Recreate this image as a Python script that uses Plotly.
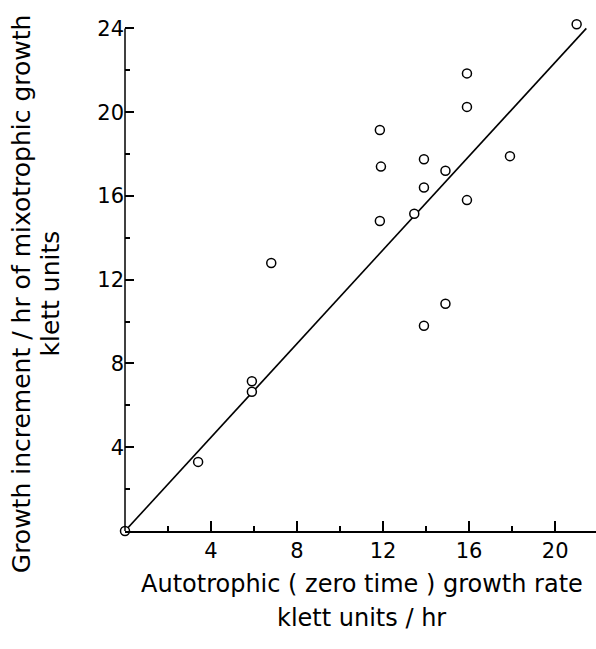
import plotly.graph_objects as go

# Data
auto_rate = [0.0, 3.4, 5.9, 5.9, 6.8, 11.85, 11.9, 11.85, 13.45, 13.9, 13.9,
             13.9, 14.9, 14.9, 15.9, 15.9, 15.9, 17.9, 21.0]
mixo_increment = [0.0, 3.3, 6.65, 7.15, 12.8, 14.8, 17.4, 19.15, 15.15, 16.4,
                  17.75, 9.8, 10.85, 17.2, 15.8, 20.25, 21.85, 17.9, 24.2]

fit_x = [0.0, 21.45]
fit_y = [0.0, 24.0]

x_ticks = [4, 8, 12, 16, 20]
y_ticks = [4, 8, 12, 16, 20, 24]
y_axis_top = 24

x_title_lines = ["Autotrophic ( zero time ) growth rate", "klett units / hr"]
y_title_lines = ["Growth increment / hr of mixotrophic growth", "klett units"]

FONT = "DejaVu Sans, Liberation Sans, sans-serif"

fig = go.Figure()
fig.add_trace(go.Scatter(x=fit_x, y=fit_y, mode="lines",
                         line=dict(color="black", width=1.6),
                         hoverinfo="skip", showlegend=False, cliponaxis=False))
fig.add_trace(go.Scatter(x=auto_rate, y=mixo_increment, mode="markers",
                         marker=dict(symbol="circle", size=9, color="white",
                                     line=dict(color="black", width=1.5)),
                         showlegend=False, cliponaxis=False))

fig.update_xaxes(range=[0, 21.9], showgrid=False, zeroline=False,
                 showline=True, linecolor="black", linewidth=1.5,
                 tickvals=x_ticks, ticks="inside", ticklen=10, tickwidth=1.5,
                 tickcolor="black",
                 minor=dict(ticks="inside", dtick=2, tick0=0, ticklen=5,
                            tickwidth=1.5, tickcolor="black"),
                 tickfont=dict(family=FONT, size=21, color="black"))
fig.update_yaxes(range=[0, 24.4], showgrid=False, zeroline=False,
                 showline=False,
                 tickvals=y_ticks, ticks="inside", ticklen=9, tickwidth=1.5,
                 tickcolor="black",
                 minor=dict(ticks="inside", tickvals=[2, 6, 10, 14, 18, 22],
                            ticklen=5, tickwidth=1.5, tickcolor="black"),
                 tickfont=dict(family=FONT, size=21, color="black"))

# Y axis line only up to the top tick
fig.add_shape(type="line", xref="paper", yref="y", x0=0, x1=0,
              y0=0, y1=y_axis_top, line=dict(color="black", width=1.5))

title_font = dict(family=FONT, size=24, color="black")
# X-axis title lines
for txt, yp in zip(x_title_lines, [-0.103, -0.171]):
    fig.add_annotation(text=txt, xref="paper", yref="paper", x=0.503, y=yp,
                       showarrow=False, font=title_font, xanchor="center",
                       yanchor="middle")
# Y-axis title lines
for txt, xp in zip(y_title_lines, [-0.219, -0.159]):
    fig.add_annotation(text=txt, xref="paper", yref="paper", x=xp, y=0.465,
                       textangle=-90, showarrow=False,
                       font=dict(family=FONT, size=25, color="black"),
                       xanchor="center", yanchor="middle")

fig.update_layout(width=596, height=649,
                  margin=dict(l=125, r=0, t=20, b=118),
                  plot_bgcolor="white", paper_bgcolor="white",
                  font=dict(family=FONT, color="black"))

fig.write_html("out.html")
